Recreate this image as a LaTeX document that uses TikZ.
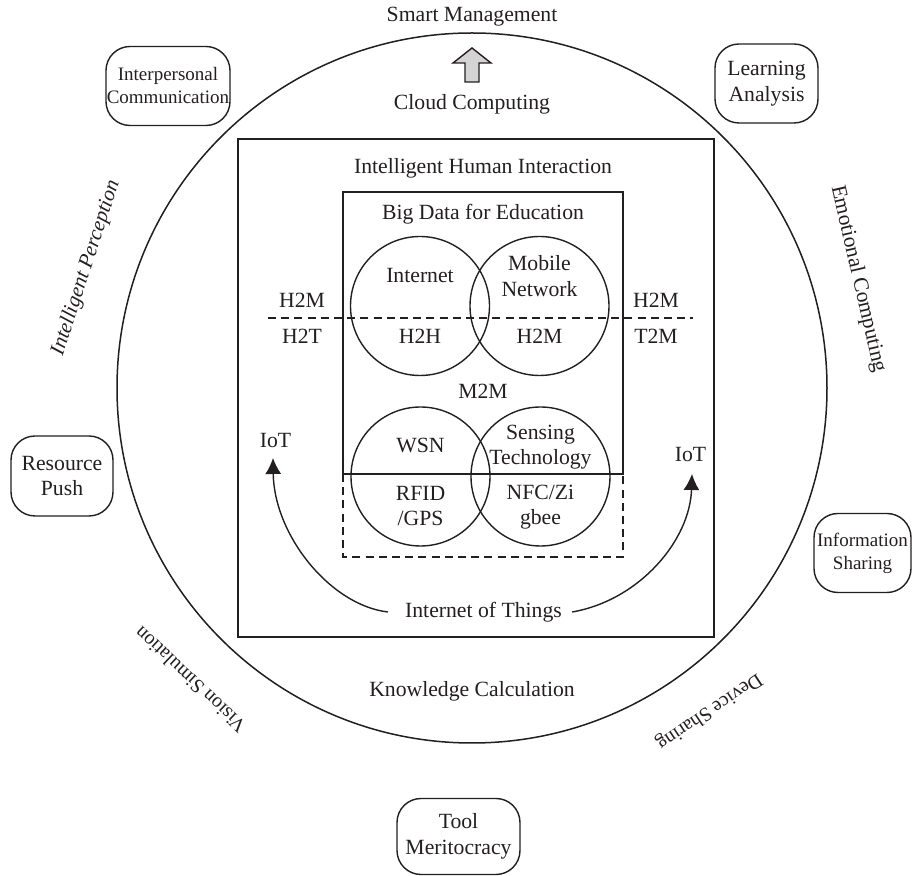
\documentclass[tikz,border=0pt]{standalone}
\usepackage{fontspec}
\setmainfont{Liberation Serif}
\usetikzlibrary{arrows.meta,calc}
\definecolor{ln}{HTML}{231F20}
\definecolor{arrowfill}{HTML}{D4D4D4}
\begin{document}
\begin{tikzpicture}[x=0.5pt,y=-0.5pt,
  every node/.style={font=\fontsize{10.85}{12.8}\selectfont, text=ln, inner sep=0pt, align=center},
  small/.style={font=\fontsize{9.5}{11.5}\selectfont},
  rbox/.style={draw=ln, line width=0.7pt, rounded corners=12pt},
  venn/.style={draw=ln, line width=0.7pt, circle, minimum size=69.5pt},
  frame/.style={draw=ln, line width=0.8pt},
  dsh/.style={draw=ln, line width=0.7pt, dash pattern=on 4pt off 2.6pt},
  conn/.style={draw=ln, line width=0.7pt, -{Latex[length=8pt,width=8pt]}}
]
\useasboundingbox (0,0) rectangle (912,876);

% big circle
\draw[ln, line width=0.75pt] (472,388) circle[radius=177.5pt];

% frames
\draw[frame] (238,139) rectangle (714,637);
\draw[frame] (343,474) -- (343,192) -- (623,192) -- (623,474) -- cycle;
\draw[dsh] (343,474) -- (343,557) -- (623,557) -- (623,474);
\draw[dsh] (268,318) -- (693,318);

% Venn circles
\node[venn] (cInt) at (420,306) {};
\node[venn] (cMob) at (539.5,306) {};
\node[venn] (cWsn) at (420.5,476.5) {};
\node[venn] (cSen) at (540.5,476.5) {};

% up arrow
\draw[ln, line width=0.7pt, fill=arrowfill] (465,82) -- (479,82) -- (479,63) -- (491,63) -- (472,48) -- (453,63) -- (465,63) -- cycle;

% titles
\node (smart) at (472,17) {Smart Management};
\node (cloud) at (472,104) {Cloud Computing};
\node (ihi) at (483,168) {Intelligent Human Interaction};
\node (bde) at (483,214) {Big Data for Education};
\node (know) at (472,691) {Knowledge Calculation};

% venn texts
\node (tInt) at (420,276) {Internet};
\node (tMob) at (539.5,276) {Mobile\\Network};
\node (tH2H) at (420,336) {H2H};
\node (tH2Mc) at (539.5,336) {H2M};
\node (tM2M) at (483,391) {M2M};
\node (tWsn) at (420.5,445) {WSN};
\node (tSen) at (540.5,447) {Sensing\\Technology};
\node (tRfid) at (420.5,506) {RFID\\/GPS};
\node (tNfc) at (540.5,507) {NFC/Zi\\gbee};

% side labels
\node (lH2M) at (302,300) {H2M};
\node (lH2T) at (302,336) {H2T};
\node (rH2M) at (656,300) {H2M};
\node (rT2M) at (656,336) {T2M};
\node (iotL) at (275.5,441) {IoT};
\node (iotR) at (690.5,455) {IoT};
\node (iot) at (483.5,612) {Internet of Things};

\coordinate (tipL) at (273,458);
\coordinate (tipR) at (692,474);
\draw[conn] ([xshift=-8.5pt]iot.west) .. controls (330,605) and (274,535) .. (tipL);
\draw[conn] ([xshift=5pt]iot.east) .. controls (640,600) and (690,540) .. (tipR);

% rounded boxes
\node[rbox, small, minimum width=62pt, minimum height=39.5pt] (ipc) at (168,86) {Interpersonal\\Communication};
\node[rbox, minimum width=51.5pt, minimum height=39.5pt] (la) at (766.5,83.5) {Learning\\Analysis};
\node[rbox, minimum width=51pt, minimum height=40pt] (rp) at (62,476) {Resource\\Push};
\node[rbox, small, minimum width=48.5pt, minimum height=39.5pt] (is) at (862.5,553) {Information\\Sharing};
\node[rbox, minimum width=61.5pt, minimum height=38pt] (tm) at (458.5,836.5) {Tool\\Meritocracy};

% rotated labels
\node[font=\fontsize{10.5}{12}\selectfont\itshape, rotate=72] (ip) at (86,268) {Intelligent Perception};
\node[font=\fontsize{10.7}{12}\selectfont, rotate=-77] (ec) at (858,279) {Emotional Computing};
\node[font=\fontsize{10}{12}\selectfont, rotate=136.7] (vs) at (190,680) {Vision Simulation};
\node[font=\fontsize{9.9}{12}\selectfont, rotate=213.7] (ds) at (709,711) {Device Sharing};
\end{tikzpicture}
\end{document}
